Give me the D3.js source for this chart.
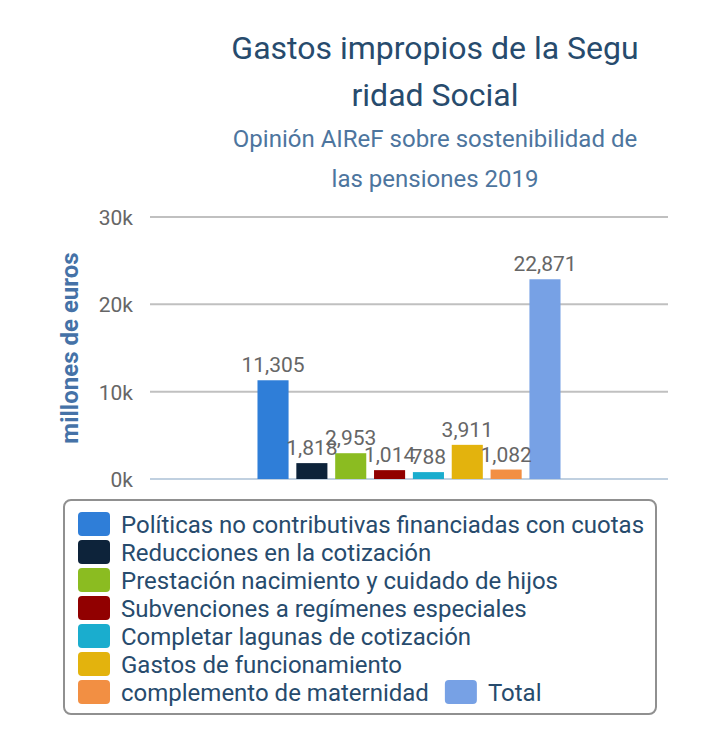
<!DOCTYPE html>
<html><head><meta charset="utf-8">
<script src="https://cdn.jsdelivr.net/npm/d3@7/dist/d3.min.js"></script>
<style>
html,body{margin:0;padding:0;background:#fff;}
text{font-family:Roboto,"Noto Sans",sans-serif;}
</style></head>
<body><svg id="c" width="720" height="736"></svg>
<script>
const titleLines = ["Gastos impropios de la Segu", "ridad Social"];
const subtitleLines = ["Opinión AIReF sobre sostenibilidad de", "las pensiones 2019"];
const yAxisTitle = "millones de euros";
const seriesNames = [
  "Políticas no contributivas financiadas con cuotas",
  "Reducciones en la cotización",
  "Prestación nacimiento y cuidado de hijos",
  "Subvenciones a regímenes especiales",
  "Completar lagunas de cotización",
  "Gastos de funcionamiento",
  "complemento de maternidad",
  "Total"
];
const seriesValues = [11305, 1818, 2953, 1014, 788, 3911, 1082, 22871];
const seriesColors = ["#2f7ed8", "#0d233a", "#8bbc21", "#910000", "#1aadce", "#e3b30d", "#f28f43", "#77a1e5"];
const yTicks = [0, 10000, 20000, 30000];

const svg = d3.select("#c");
const plotL = 150, plotR = 668, plotT = 217, plotB = 479;

// Title
svg.append("g").selectAll("text").data(titleLines).join("text")
  .attr("x", 435).attr("y", (d,i)=>59 + i*47)
  .attr("text-anchor","middle").attr("font-size", 32).attr("fill","#274b6d")
  .text(d=>d);
svg.append("g").selectAll("text").data(subtitleLines).join("text")
  .attr("x", 435).attr("y", (d,i)=>147 + i*40)
  .attr("text-anchor","middle").attr("font-size", 24).attr("fill","#4d759e")
  .text(d=>d);

const y = d3.scaleLinear().domain([0, 30000]).range([plotB, plotT]);
const catW = plotR - plotL;
const grpPad = 0.2 * catW;
const x = d3.scaleBand().domain(seriesNames)
  .range([plotL + grpPad, plotR - grpPad]).paddingInner(0.2).paddingOuter(0.1);

// gridlines
svg.append("g").selectAll("line").data(yTicks).join("line")
  .attr("x1", plotL).attr("x2", plotR)
  .attr("y1", d=>y(d)).attr("y2", d=>y(d))
  .attr("stroke", d=> d===0 ? "#c0d0e0" : "#c0c0c0").attr("stroke-width", 2);

// y axis labels
const yAxis = d3.axisLeft(y).tickValues(yTicks).tickSize(0).tickPadding(0)
  .tickFormat(d => (d/1000) + "k");
const ga = svg.append("g").attr("transform", `translate(${plotL-17},0)`).call(yAxis);
ga.select(".domain").remove();
ga.selectAll("text").attr("font-size", 21).attr("fill", "#666666")
  .attr("font-family","Roboto").attr("dy", "0.35em");

svg.append("text")
  .attr("transform", `translate(78,${(plotT+plotB)/2}) rotate(-90)`)
  .attr("text-anchor","middle").attr("font-size", 24).attr("font-weight","bold")
  .attr("fill","#4572a7").text(yAxisTitle);

// bars
const data = seriesNames.map((n,i)=>({name:n, value:seriesValues[i], color:seriesColors[i]}));
svg.append("g").selectAll("rect").data(data).join("rect")
  .attr("x", d=>x(d.name)).attr("width", x.bandwidth())
  .attr("y", d=>y(d.value)).attr("height", d=>y(0)-y(d.value))
  .attr("fill", d=>d.color);

svg.append("g").selectAll("text").data(data).join("text")
  .attr("x", d=>x(d.name)+x.bandwidth()/2).attr("y", d=>y(d.value)-8)
  .attr("text-anchor","middle").attr("font-size", 21).attr("fill","#666666")
  .text(d=>d3.format(",")(d.value));

// legend
const lg = svg.append("g");
lg.append("rect").attr("x", 64).attr("y", 500).attr("width", 592).attr("height", 214)
  .attr("rx", 7).attr("fill","none").attr("stroke","#909090").attr("stroke-width", 2);
let cx = 78, row = 0;
data.forEach((d,i)=>{
  if (i === 7) { /* same row as previous */ } else if (i>0) { row++; cx = 78; }
  const yy = 512 + row*28;
  lg.append("rect").attr("x", cx).attr("y", yy).attr("width", 32).attr("height", 24)
    .attr("rx", 4).attr("fill", d.color);
  const t = lg.append("text").attr("x", cx+43).attr("y", yy+21)
    .attr("font-size", 24).attr("fill","#274b6d").text(d.name);
  cx = cx + 43 + t.node().getComputedTextLength() + 16;
});
</script></body></html>
